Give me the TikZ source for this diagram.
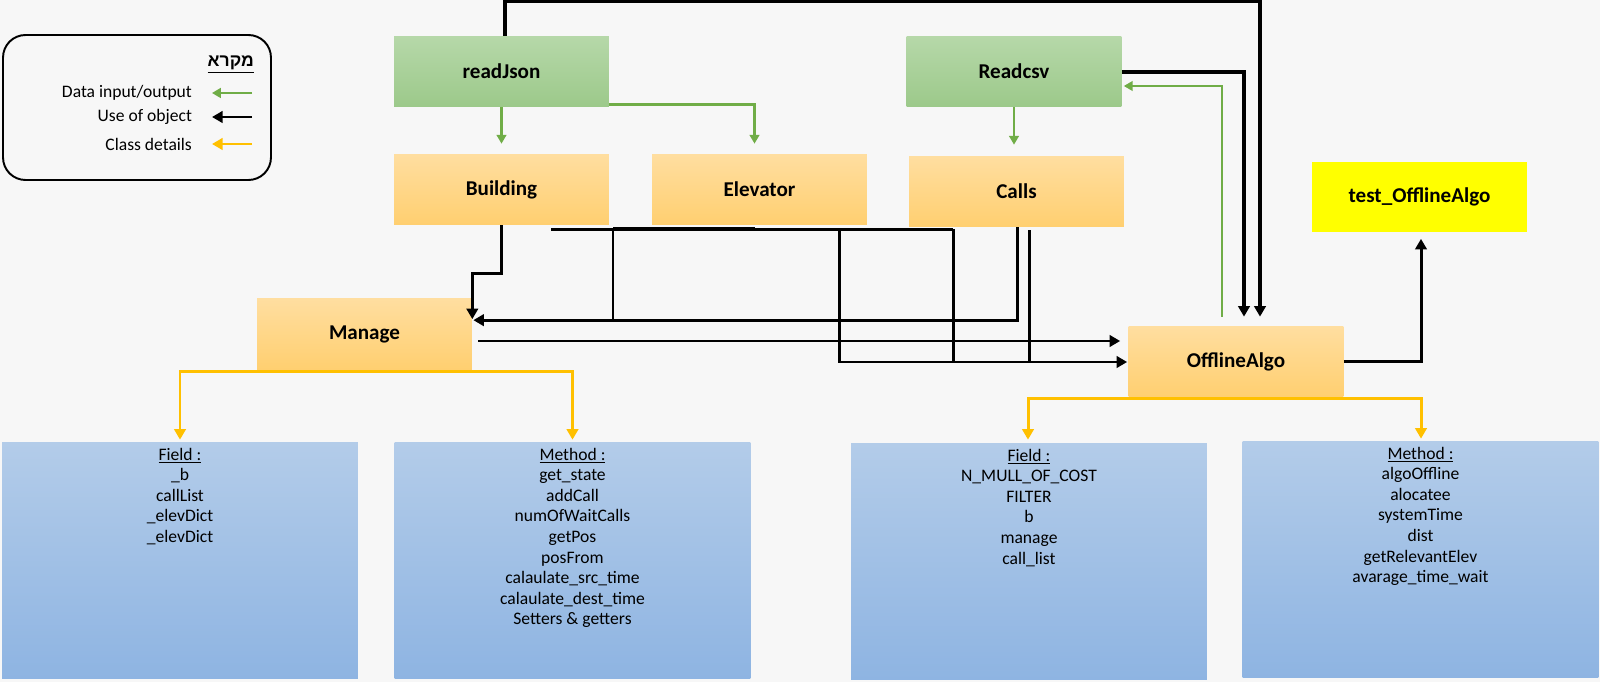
\documentclass[tikz,border=0pt]{standalone}
\usepackage{fontspec}
\setmainfont{Carlito}
\newfontfamily\hebfont[Script=Hebrew]{Liberation Sans}
\TeXXeTstate=1
\usepackage{xcolor}
\usepackage{tikz}
\usetikzlibrary{calc, arrows.meta, positioning, backgrounds}

\definecolor{bgGray}{HTML}{F7F7F7}
\definecolor{grnTop}{HTML}{B6D8A9}
\definecolor{grnBot}{HTML}{9CC98A}
\definecolor{goldTop}{HTML}{FFDEA0}
\definecolor{goldBot}{HTML}{FFCF70}
\definecolor{blueTop}{HTML}{B3CCE9}
\definecolor{blueBot}{HTML}{8EB4E2}
\definecolor{testYellow}{HTML}{FFFF00}
\definecolor{dataGreen}{HTML}{70AD47}
\definecolor{detailGold}{HTML}{FFC000}

\newcommand{\detaillist}[2]{\parbox[t][4.5cm][t]{6.9cm}{\centering\underline{#1}\\#2}}

\tikzset{
	classbox/.style={rectangle, inner sep=0pt, minimum width=4.3cm, minimum height=1.42cm, font=\bfseries\fontsize{12}{14}\selectfont},
	readerbox/.style={classbox, top color=grnTop, bottom color=grnBot},
	objbox/.style={classbox, top color=goldTop, bottom color=goldBot},
	testbox/.style={classbox, fill=testYellow},
	detailbox/.style={rectangle, inner sep=0pt, minimum width=7.12cm, minimum height=4.74cm, top color=blueTop, bottom color=blueBot, font=\fontsize{10}{11.7}\selectfont},
	legendtext/.style={anchor=east, inner sep=1pt, font=\fontsize{10}{12}\selectfont},
	dataflow/.style={draw=dataGreen, line width=1.2pt, -{Triangle[length=5pt,width=5.5pt]}},
	useobj/.style={draw=black, line width=1.7pt, -{Triangle[length=6pt,width=6.5pt]}},
	uselink/.style={draw=black, line width=1.7pt},
	details/.style={draw=detailGold, line width=1.7pt, -{Triangle[length=6pt,width=6.5pt]}}
}

\begin{document}
\begin{tikzpicture}[x=0.02cm, y=-0.02cm]
			% CANVAS
			\fill[bgGray] (0,0) rectangle (1600,682);
			\useasboundingbox (0,0) rectangle (1600,682);
			
			% LEGEND
			\node[draw, line width=1.1pt, rounded corners=0.45cm, minimum width=5.36cm, minimum height=2.9cm] (legend) at (137,107.5) {};
			\node[legendtext, font=\hebfont\bfseries\fontsize{10}{12}\selectfont] (legendTitle) at (256,65) {\underline{\beginR מקרא\endR}};
			\node[legendtext] (legendData) at (194,93) {Data input/output};
			\node[legendtext] (legendUse) at (194,117) {Use of object};
			\node[legendtext] (legendClass) at (194,144) {Class details};
			\draw[dataflow, line width=1.7pt] ($(legendData.east)+(58,0)$) -- ($(legendData.east)+(18,0)$);
			\draw[useobj] ($(legendUse.east)+(58,0)$) -- ($(legendUse.east)+(18,0)$);
			\draw[details] ($(legendClass.east)+(58,0)$) -- ($(legendClass.east)+(18,0)$);
			
			% READERS
			\node[readerbox] (readJson) at (501.5,71.5) {readJson};
			\node[readerbox] (readCsv) at (1014,71.5) {Readcsv};
			
			% CLASSES
			\node[objbox] (building) at (501.5,189.5) {Building};
			\node[objbox] (elevator) at (759.5,189.5) {Elevator};
			\node[objbox] (calls) at (1016.5,191.5) {Calls};
			\node[testbox] (testAlgo) at (1419.5,197) {test\_OfflineAlgo};
			\node[objbox] (manage) at (364.5,334) {Manage};
			\node[objbox] (offlineAlgo) at (1236,361.5) {OfflineAlgo};
			
			% CLASS DETAILS
			\node[detailbox] (manageField) at (180,560.5) {\detaillist{Field :}{\_b\\callList\\\_elevDict\\\_elevDict}};
			\node[detailbox] (manageMethod) at (572.5,560.5) {\detaillist{Method :}{get\_state\\addCall\\numOfWaitCalls\\getPos\\posFrom\\calaulate\_src\_time\\calaulate\_dest\_time\\Setters \& getters}};
			\node[detailbox] (algoField) at (1029,561.5) {\detaillist{Field :}{N\_MULL\_OF\_COST\\FILTER\\b\\manage\\call\_list}};
			\node[detailbox] (algoMethod) at (1420.5,559.5) {\detaillist{Method :}{algoOffline\\alocatee\\systemTime\\dist\\getRelevantElev\\avarage\_time\_wait}};
			
			% DATA INPUT/OUTPUT
			\draw[dataflow] (readJson.south) -- ($(building.north)+(0,-10)$);
			\draw[dataflow, line width=1.5pt] ($(readJson.south east)+(0,-3)$) -| ($(elevator.north)+(-5,-10)$);
			\draw[dataflow] (readCsv.south) -- ($(calls.north)+(-2.5,-11)$);
			\draw[dataflow, line width=1pt] ($(offlineAlgo.north)+(-14,-9)$) |- ($(readCsv.east)+(2,14.5)$);
			
			% USE OF OBJECT
			\draw[useobj, line width=1.8pt] ($(readJson.north)+(3.5,0)$) -- ++(0,-34) -| ($(offlineAlgo.north)+(24,-9)$);
			\draw[useobj, line width=1.8pt] ($(readCsv.east)+(0,0.5)$) -| ($(offlineAlgo.north)+(8,-9)$);
			\draw[useobj] (building.south) -- ++(0,48) -| ($(manage.north east)+(0,21)$);
			\draw[useobj] ($(calls.south)+(0.5,0)$) |- ($(manage.north east)+(1,22)$);
			\coordinate (busL) at ($(elevator.south)+(-208.5,4)$);
			\coordinate (busR) at ($(elevator.south)+(193.5,4)$);
			\draw[uselink] (busL) -- (busR);
			\draw[uselink, line width=2.4pt] ($(elevator.south)+(-146.5,3.5)$) -- ($(elevator.south)+(-4.5,3.5)$);
			\draw[uselink] ($(elevator.south)+(-146.5,4)$) -- ++(0,92);
			\draw[useobj] ($(elevator.south)+(79.5,4)$) |- ($(offlineAlgo.west)+(-1,0.5)$);
			\draw[uselink] (busR) -- ++(0,133);
			\draw[uselink] ($(calls.south)+(12.5,3)$) -- ++(0,132);
			\draw[useobj] ($(manage.east)+(6,7)$) -- ($(offlineAlgo.west)+(-8,-20.5)$);
			\draw[useobj] (offlineAlgo.east) -| ($(testAlgo.south)+(1.5,6)$);
			
			% CLASS DETAILS LINKS
			\draw[details] ($(manage.south)+(0,2)$) -| ($(manageField.north)+(0,-2)$);
			\draw[details] ($(manage.south)+(0,2)$) -| ($(manageMethod.north)+(0,-2)$);
			\draw[details] ($(offlineAlgo.south)+(0,1)$) -| ($(algoField.north)+(-1,-3)$);
			\draw[details] ($(offlineAlgo.south)+(0,1)$) -| ($(algoMethod.north)+(0.5,-2)$);
\end{tikzpicture}
\end{document}
